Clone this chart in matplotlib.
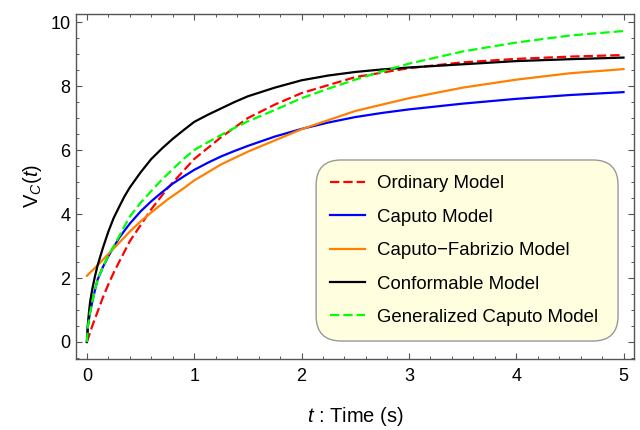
import numpy as np
import matplotlib
matplotlib.use("Agg")
import matplotlib.pyplot as plt
from matplotlib.patches import FancyBboxPatch
from matplotlib.ticker import MultipleLocator

plt.rcParams['font.family'] = ['Liberation Sans', 'DejaVu Sans']
plt.rcParams['mathtext.fontset'] = 'custom'
plt.rcParams['mathtext.rm'] = 'Liberation Sans'
plt.rcParams['mathtext.it'] = 'Liberation Sans:italic'

# values
t_ord = [0, 0.05, 0.1, 0.15, 0.2, 0.25, 0.3, 0.4, 0.5, 0.6, 0.75, 0.9, 1, 1.25, 1.5, 1.75, 2, 2.5, 3, 3.5, 4, 4.5, 5]
v_ord = [0, 0.5, 0.95, 1.4, 1.8, 2.17, 2.5, 3.15, 3.65, 4.15, 4.8, 5.35, 5.72, 6.4, 7.0, 7.42, 7.78, 8.28, 8.56, 8.74, 8.85, 8.92, 8.97]

t_frac = [0, 0.01, 0.02, 0.03, 0.05, 0.075, 0.1, 0.15, 0.2, 0.25, 0.3, 0.35, 0.4, 0.5, 0.6, 0.7, 0.8, 0.9, 1,
          1.125, 1.25, 1.375, 1.5, 1.75, 2, 2.25, 2.5, 2.75, 3, 3.5, 4, 4.5, 5]
v_caputo = [0, 0.5, 0.72, 0.92, 1.25, 1.62, 1.95, 2.35, 2.68, 2.97, 3.25, 3.48, 3.7, 4.08, 4.4, 4.68, 4.95, 5.17, 5.38,
            5.6, 5.8, 5.97, 6.13, 6.42, 6.66, 6.86, 7.03, 7.16, 7.27, 7.45, 7.6, 7.72, 7.81]
v_conf = [0, 0.6, 0.95, 1.25, 1.65, 2.05, 2.4, 2.95, 3.45, 3.88, 4.22, 4.55, 4.83, 5.3, 5.72, 6.05, 6.35, 6.62, 6.88,
          7.1, 7.3, 7.5, 7.68, 7.95, 8.18, 8.33, 8.44, 8.52, 8.58, 8.68, 8.78, 8.84, 8.89]
v_gen = [0, 0.5, 0.72, 0.92, 1.25, 1.62, 1.95, 2.36, 2.7, 3.0, 3.3, 3.62, 3.92, 4.35, 4.72, 5.08, 5.4, 5.72, 6.0,
         6.24, 6.47, 6.69, 6.9, 7.25, 7.62, 7.92, 8.2, 8.46, 8.7, 9.08, 9.36, 9.58, 9.72]

t_cf = [0, 0.1, 0.2, 0.3, 0.4, 0.5, 0.6, 0.75, 0.9, 1, 1.25, 1.5, 1.75, 2, 2.5, 3, 3.5, 4, 4.5, 5]
v_cf = [2.07, 2.4, 2.75, 3.1, 3.45, 3.77, 4.05, 4.45, 4.8, 5.05, 5.55, 5.95, 6.3, 6.65, 7.22, 7.62, 7.95, 8.2, 8.4, 8.53]

labels = ['Ordinary Model', 'Caputo Model', 'Caputo\u2212Fabrizio Model',
          'Conformable Model', 'Generalized Caputo Model']

fig = plt.figure(figsize=(6.4, 4.3), dpi=100)
ax = fig.add_axes([0.119, 0.166, 0.872, 0.802])

dash = (0, (4.2, 1.8))
ax.plot(t_ord, v_ord, color='#FF0000', lw=1.6, ls=dash, label=labels[0], zorder=3)
ax.plot(t_frac, v_caputo, color='#0000FF', lw=1.6, label=labels[1], zorder=3)
ax.plot(t_cf, v_cf, color='#FF8000', lw=1.6, label=labels[2], zorder=3)
ax.plot(t_frac, v_conf, color='black', lw=1.6, label=labels[3], zorder=3)
ax.plot(t_frac, v_gen, color='#00FF00', lw=1.6, ls=dash, label=labels[4], zorder=4)

ax.set_xlim(-0.1, 5.1)
ax.set_ylim(-0.52, 10.26)
ax.xaxis.set_major_locator(MultipleLocator(1))
ax.xaxis.set_minor_locator(MultipleLocator(0.2))
ax.yaxis.set_major_locator(MultipleLocator(2))
ax.yaxis.set_minor_locator(MultipleLocator(0.5))
ax.tick_params(which='both', direction='in', top=True, right=True,
               color='#555555', labelsize=13)
ax.tick_params(axis='x', pad=7)
ax.tick_params(axis='y', pad=4)
ax.tick_params(which='major', length=4.5, width=0.8)
ax.tick_params(which='minor', length=2.5, width=0.7)
for s in ax.spines.values():
    s.set_color('#555555')
    s.set_linewidth(1.0)

ax.set_xlabel(r'$t$ : Time (s)', fontsize=14.5, labelpad=14)
ax.set_ylabel(r'$\mathrm{V}_C(t)$', fontsize=14.5, labelpad=5)

# rounded legend box
box = FancyBboxPatch((0.43, 0.051), 0.541, 0.525, transform=ax.transAxes,
                     boxstyle='round,pad=0,rounding_size=0.045',
                     fc='#FFFFE0', ec='#999999', lw=1.0, zorder=5,
                     mutation_aspect=1.62)
ax.add_patch(box)
leg = ax.legend(loc='upper left', bbox_to_anchor=(0.442, 0.553), frameon=False,
                fontsize=13.4, handlelength=1.88, handletextpad=0.62,
                labelspacing=0.88, borderaxespad=0)
leg.set_zorder(6)

fig.savefig('out.png', dpi=100)
